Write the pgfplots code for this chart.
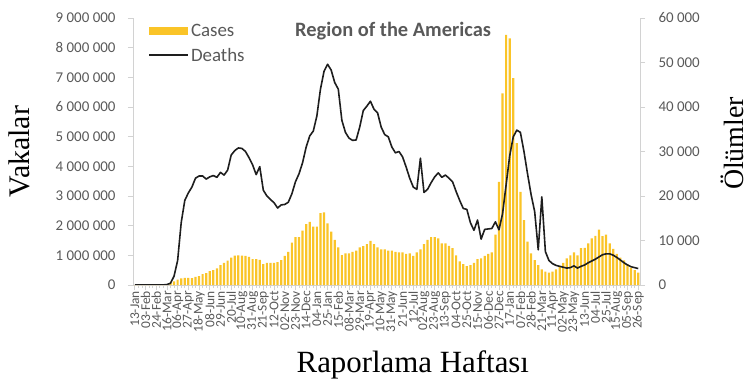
\documentclass[border=0pt]{standalone}
\usepackage{pgfplots}
\pgfplotsset{compat=1.18}
\usepackage{pgfplotstable}
\usepackage{fontspec}
\setmainfont{Carlito}
\newfontfamily\seriffont{Liberation Serif}
\definecolor{barc}{RGB}{250,196,40}
\definecolor{axc}{RGB}{210,210,210}
\definecolor{txt}{RGB}{89,89,89}
\definecolor{linec}{RGB}{30,30,30}

\pgfplotstableread{
i cases deaths
0 0 0
1 0 0
2 0 0
3 0 0
4 0 0
5 0 0
6 0 0
7 2000 0
8 10000 20
9 30000 100
10 60000 400
11 120000 2000
12 180000 5500
13 220000 14000
14 240000 19000
15 240000 20700
16 230000 22000
17 270000 24000
18 300000 24500
19 370000 24500
20 400000 23800
21 470000 24300
22 500000 24600
23 560000 24200
24 670000 25300
25 750000 24700
26 820000 25800
27 920000 29200
28 990000 30200
29 1000000 30800
30 990000 30700
31 980000 30000
32 950000 28600
33 870000 27000
34 870000 24800
35 850000 26600
36 700000 21300
37 750000 20000
38 750000 19200
39 750000 18500
40 770000 17300
41 840000 18000
42 980000 18100
43 1120000 18600
44 1430000 20500
45 1610000 23200
46 1610000 25000
47 1830000 27500
48 2050000 31000
49 2130000 33500
50 1970000 34600
51 1970000 38000
52 2420000 44000
53 2450000 48000
54 2080000 49600
55 1800000 48300
56 1520000 45500
57 1270000 44000
58 1010000 37000
59 1070000 34300
60 1070000 33000
61 1120000 32500
62 1160000 32600
63 1270000 35500
64 1310000 39200
65 1380000 40200
66 1490000 41300
67 1380000 39500
68 1270000 38700
69 1200000 35500
70 1200000 33800
71 1160000 33300
72 1160000 31000
73 1120000 29700
74 1100000 30000
75 1100000 28800
76 1050000 26500
77 1070000 24000
78 980000 22000
79 1100000 21500
80 1200000 28500
81 1380000 20800
82 1520000 21500
83 1610000 23000
84 1610000 24300
85 1570000 25200
86 1400000 24200
87 1400000 24700
88 1320000 24000
89 1240000 23200
90 1000000 21000
91 800000 19000
92 700000 17200
93 640000 17000
94 670000 14000
95 750000 12300
96 870000 14600
97 900000 10300
98 980000 12500
99 1050000 12600
100 1100000 12700
101 1700000 14200
102 3480000 12400
103 6460000 16000
104 8430000 22500
105 8310000 29000
106 6970000 33300
107 4780000 34800
108 3140000 34300
109 2190000 30000
110 1460000 25000
111 1070000 20300
112 840000 16500
113 670000 7900
114 530000 19800
115 450000 7500
116 420000 5500
117 450000 4800
118 530000 4400
119 600000 4200
120 750000 4000
121 900000 3800
122 1000000 3900
123 1100000 4300
124 1000000 3800
125 1240000 4200
126 1250000 4500
127 1400000 5000
128 1570000 5400
129 1660000 5800
130 1870000 6300
131 1650000 6800
132 1700000 7000
133 1400000 7000
134 1220000 6700
135 1050000 6200
136 920000 5600
137 830000 5000
138 700000 4500
139 580000 4100
140 500000 3900
141 420000 3700
}\data

\begin{document}
\begin{tikzpicture}
\path[use as bounding box] (-133bp,-101bp) rectangle (620bp,285bp);
\begin{axis}[
  at={(0,0)}, anchor=south west,
  scale only axis, width=507bp, height=267bp,
  xmin=-0.5, xmax=141.5, ymin=0, ymax=9000000,
  axis y line*=left, axis x line*=bottom,
  axis line style={axc, line width=0.8bp},
  tick style={axc, line width=0.8bp},
  tick align=outside, major tick length=5bp, minor tick length=3bp,
  scaled ticks=false,
  xtick={0,3,...,141},
  minor x tick num=2,
  xticklabels={13-Jan,03-Feb,24-Feb,16-Mar,06-Apr,27-Apr,18-May,08-Jun,29-Jun,20-Jul,10-Aug,31-Aug,21-Sep,12-Oct,02-Nov,23-Nov,14-Dec,04-Jan,25-Jan,15-Feb,08-Mar,29-Mar,19-Apr,10-May,31-May,21-Jun,12-Jul,02-Aug,23-Aug,13-Sep,04-Oct,25-Oct,15-Nov,06-Dec,27-Dec,17-Jan,07-Feb,28-Feb,21-Mar,11-Apr,02-May,23-May,13-Jun,04-Jul,25-Jul,15-Aug,05-Sep,26-Sep},
  xticklabel style={rotate=90, anchor=east, font=\fontsize{13.5}{14}\selectfont, text=txt, inner sep=1bp},
  ytick={0,1000000,2000000,3000000,4000000,5000000,6000000,7000000,8000000,9000000},
  yticklabels={0,1 000 000,2 000 000,3 000 000,4 000 000,5 000 000,6 000 000,7 000 000,8 000 000,9 000 000},
  yticklabel style={font=\fontsize{15}{17}\selectfont, text=txt, xshift=-9bp},
  ylabel={Vakalar},
  ylabel style={font=\seriffont\fontsize{30}{32}\selectfont, text=black, at={(axis description cs:-0.225,0.5)}, anchor=center},
  xlabel={Raporlama Haftası},
  xlabel style={font=\seriffont\fontsize{31}{33}\selectfont, text=black, at={(axis description cs:0.552,-0.3)}, anchor=center},
  legend style={at={(axis description cs:0.03,0.985)}, anchor=north west, draw=none, fill=none, font=\fontsize{19}{21}\selectfont, text=txt, row sep=6bp, inner sep=0bp},
  legend cell align=left,
]
\addplot[ybar, bar width=0.62, fill=barc, draw=none,
  legend image code/.code={\fill[barc] (0bp,-4bp) rectangle (39bp,4bp);}]
  table[x=i, y=cases]{\data};
\addlegendentry{Cases}
\addlegendimage{legend image code/.code={\draw[linec, line width=1.6bp] (0bp,0bp) -- (39bp,0bp);}}
\addlegendentry{Deaths}
\node[anchor=center, font=\bfseries\fontsize{20.5}{22}\selectfont, text=txt] at (rel axis cs:0.513,0.952) {Region of the Americas};
\end{axis}
\begin{axis}[
  at={(0,0)}, anchor=south west,
  scale only axis, width=507bp, height=267bp,
  xmin=-0.5, xmax=141.5, ymin=0, ymax=60000,
  axis y line*=right, axis x line=none,
  axis line style={axc, line width=0.8bp},
  tick style={axc, line width=0.8bp},
  tick align=outside, major tick length=5bp,
  scaled ticks=false,
  ytick={0,10000,20000,30000,40000,50000,60000},
  yticklabels={0,10 000,20 000,30 000,40 000,50 000,60 000},
  yticklabel style={font=\fontsize{15}{17}\selectfont, text=txt, xshift=10bp},
  ylabel={Ölümler},
  ylabel style={font=\seriffont\fontsize{28}{30}\selectfont, text=black, at={(axis description cs:1.183,0.53)}, anchor=center, rotate=0},
]
\addplot[linec, line width=1.6bp, line join=round, mark=none] table[x=i, y=deaths]{\data};
\end{axis}
\end{tikzpicture}
\end{document}
